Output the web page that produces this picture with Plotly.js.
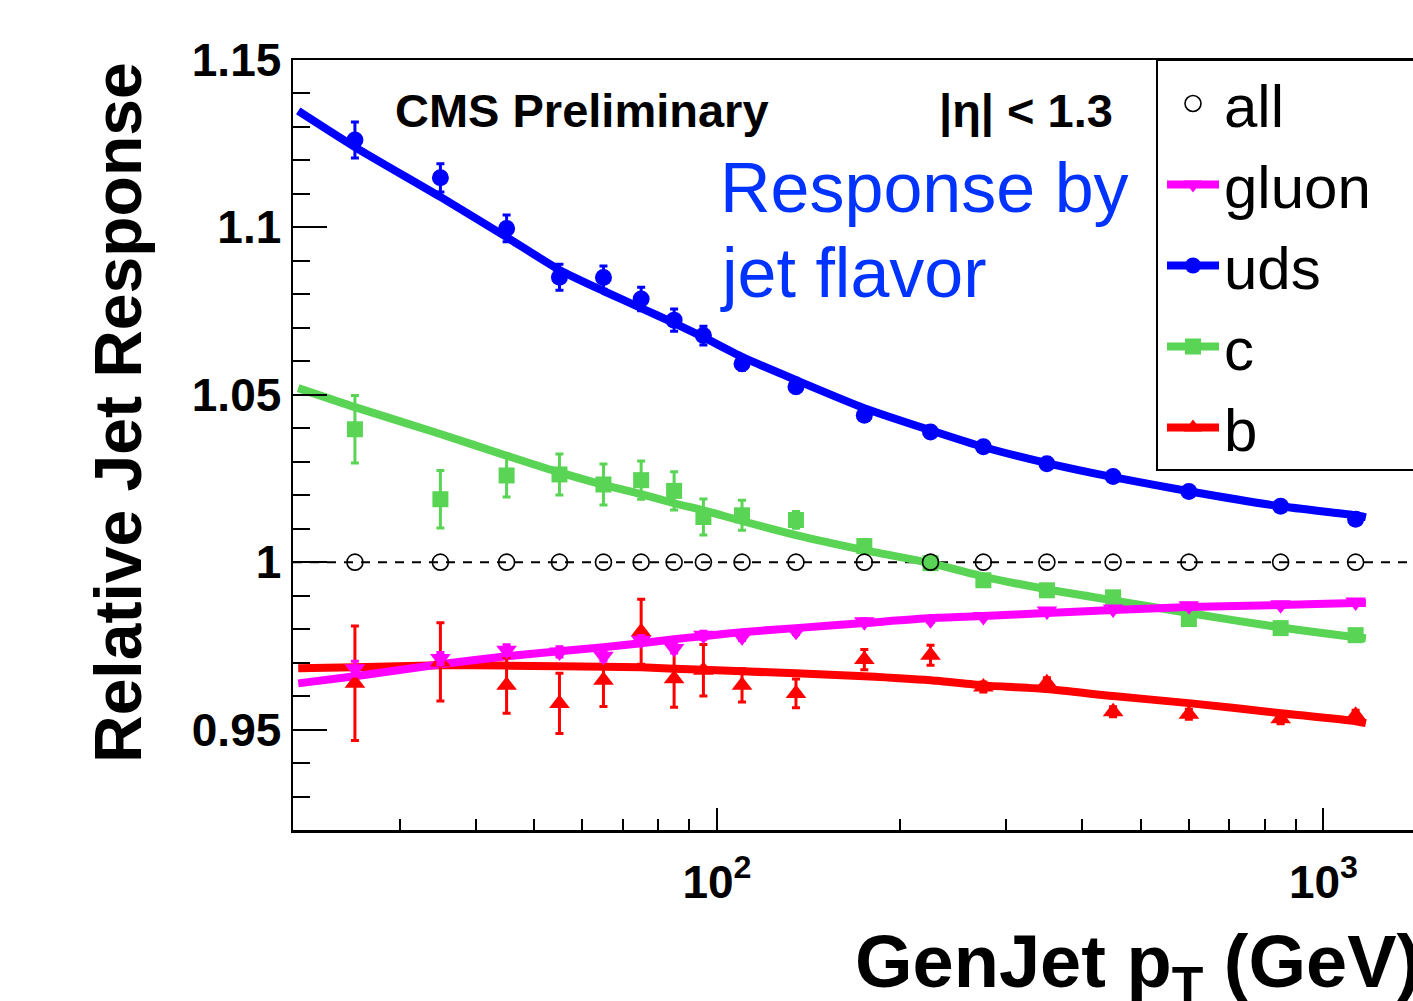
<!DOCTYPE html>
<html>
<head>
<meta charset="utf-8">
<script src="https://cdn.plot.ly/plotly-3.0.1.min.js"></script>
<style>
  html, body { margin: 0; padding: 0; overflow: hidden; background: #ffffff; }
  #chart { width: 1536px; height: 1001px; }
</style>
</head>
<body>
<div id="chart"></div>
<script>
// ---------------- data ----------------
const pt = [25.3, 35, 45, 55, 65, 75, 85, 95, 110, 135, 175, 225, 275, 350, 450, 600, 850, 1130];

const allResp = [1, 1, 1, 1, 1, 1, 1, 1, 1, 1, 1, 1, 1, 1, 1, 1, 1, 1];

const udsResp = [1.1261, 1.1148, 1.0997, 1.0851, 1.0850, 1.0786, 1.0723, 1.0677, 1.0593, 1.0524, 1.0439, 1.0389, 1.0345, 1.0294, 1.0256, 1.0211, 1.0167, 1.0128];
const udsErr  = [0.0054, 0.0042, 0.0040, 0.0039, 0.0035, 0.0035, 0.0033, 0.0028, 0.0020, 0.0018, 0.0015, 0.0014, 0.0012, 0.0011, 0.0010, 0.0010, 0.0010, 0.0010];

const cResp = [1.0397, 1.0188, 1.0259, 1.0262, 1.0232, 1.0245, 1.0213, 1.0135, 1.0140, 1.0126, 1.0048, 0.9997, 0.9946, 0.9916, 0.9895, 0.9830, 0.9803, 0.9782];
const cErr  = [0.0101, 0.0086, 0.0064, 0.0061, 0.0061, 0.0057, 0.0057, 0.0054, 0.0045, 0.0025, 0.0020, 0.0018, 0.0015, 0.0014, 0.0013, 0.0012, 0.0012, 0.0012];

const gluonResp = [0.9682, 0.9712, 0.9737, 0.9732, 0.9719, 0.9767, 0.9742, 0.9782, 0.9777, 0.9794, 0.9822, 0.9828, 0.9838, 0.9854, 0.9860, 0.9870, 0.9873, 0.9881];
const gluonErr  = [0.0022, 0.0018, 0.0016, 0.0015, 0.0014, 0.0014, 0.0013, 0.0012, 0.0011, 0.0010, 0.0009, 0.0008, 0.0008, 0.0007, 0.0007, 0.0007, 0.0007, 0.0007];

const bResp = [0.9638, 0.9702, 0.9632, 0.9578, 0.9647, 0.9792, 0.9652, 0.9677, 0.9632, 0.9608, 0.9709, 0.9722, 0.9627, 0.9640, 0.9553, 0.9546, 0.9532, 0.9543];
const bErr  = [0.0171, 0.0117, 0.0083, 0.0090, 0.0078, 0.0097, 0.0085, 0.0077, 0.0050, 0.0043, 0.0030, 0.0030, 0.0015, 0.0015, 0.0015, 0.0015, 0.0015, 0.0015];

// fitted curves
const fitPt    = [20.4, 25.3, 35, 45, 55, 65, 75, 85, 95, 110, 135, 175, 225, 275, 350, 450, 600, 850, 1130, 1175];
const udsFit   = [1.1348, 1.1240, 1.1091, 1.0971, 1.0873, 1.0810, 1.0759, 1.0714, 1.0672, 1.0613, 1.0544, 1.0460, 1.0394, 1.0344, 1.0296, 1.0254, 1.0212, 1.0167, 1.0140, 1.0134];
const cFit     = [1.0520, 1.0463, 1.0383, 1.0318, 1.0268, 1.0231, 1.0203, 1.0176, 1.0155, 1.0123, 1.0081, 1.0036, 0.9997, 0.9957, 0.9919, 0.9886, 0.9848, 0.9805, 0.9776, 0.9773];
const gluonFit = [0.9638, 0.9659, 0.9695, 0.9719, 0.9734, 0.9746, 0.9758, 0.9770, 0.9779, 0.9791, 0.9803, 0.9818, 0.9833, 0.9839, 0.9848, 0.9857, 0.9866, 0.9872, 0.9878, 0.9878];
const bFit     = [0.9683, 0.9686, 0.9692, 0.9691, 0.9689, 0.9688, 0.9686, 0.9682, 0.9679, 0.9674, 0.9668, 0.9659, 0.9647, 0.9632, 0.9621, 0.9600, 0.9579, 0.9549, 0.9525, 0.9519];

const refLevel = 1;

// axes
const xRange = [20, 2000];
const xTickVals = [100, 1000];
const xTickText = ['10<sup>2</sup>', '10<sup>3</sup>'];
const xMinorVals = [30, 40, 50, 60, 70, 80, 90, 200, 300, 400, 500, 600, 700, 800, 900];
const yRange = [0.92, 1.15];
const yTickVals = [0.95, 1, 1.05, 1.1, 1.15];
const yTickText = ['0.95', '1', '1.05', '1.1', '1.15'];
const yMinorVals = [0.93, 0.94, 0.96, 0.97, 0.98, 0.99, 1.01, 1.02, 1.03, 1.04, 1.06, 1.07, 1.08, 1.09, 1.11, 1.12, 1.13, 1.14];

// ---------------- styling ----------------
const FONT = 'Liberation Sans, Arial, Helvetica, sans-serif';
const COL = { all: '#000000', gluon: '#ff00ff', uds: '#0000ff', c: '#59d454', b: '#ff0000' };

// plot-area geometry in page pixels (used only to place text and the legend frame)
const PL = 293, PT = 60, PW = 1213, PH = 770;
const fx = px => (px - PL) / PW;
const fy = py => 1 - (py - PT) / PH;

function fitTrace(name, y, color, symbol, rank) {
  return {
    type: 'scatter', mode: 'lines+markers', name: name,
    x: fitPt, y: y,
    line: { color: color, width: 8, shape: 'spline', smoothing: 0.6 },
    marker: { symbol: symbol, size: 16, color: color },
    selectedpoints: [], unselected: { marker: { opacity: 0 } },
    legendgroup: name, legendrank: rank, hoverinfo: 'skip'
  };
}
function pointTrace(name, y, err, color, symbol, size) {
  return {
    type: 'scatter', mode: 'markers', name: name, showlegend: false,
    x: pt, y: y, legendgroup: name,
    marker: { symbol: symbol, size: size, color: color },
    error_y: { type: 'data', array: err, visible: true, color: color, thickness: 3, width: 4 }
  };
}

const data = [
  fitTrace('b', bFit, COL.b, 'triangle-up', 5),
  fitTrace('c', cFit, COL.c, 'square', 4),
  fitTrace('gluon', gluonFit, COL.gluon, 'triangle-down', 2),
  fitTrace('uds', udsFit, COL.uds, 'circle', 3),
  pointTrace('b', bResp, bErr, COL.b, 'triangle-up', 18),
  pointTrace('c', cResp, cErr, COL.c, 'square', 16),
  pointTrace('gluon', gluonResp, gluonErr, COL.gluon, 'triangle-down', 18),
  pointTrace('uds', udsResp, udsErr, COL.uds, 'circle', 17),
  {
    type: 'scatter', mode: 'markers', name: 'all', x: pt, y: allResp,
    marker: { symbol: 'circle-open', size: 16, color: COL.all, line: { width: 1.6, color: COL.all } },
    legendgroup: 'all', legendrank: 1
  }
];

const tickFontX = { family: FONT, size: 46, weight: 'bold', color: '#000' };
const tickFontY = { family: FONT, size: 46, weight: 'bold', color: '#000' };

const layout = {
  width: 1536, height: 1001,
  margin: { l: PL, r: 1536 - PL - PW, t: PT, b: 1001 - PT - PH, pad: 0 },
  paper_bgcolor: '#ffffff', plot_bgcolor: '#ffffff',
  font: { family: FONT, color: '#000' },
  showlegend: true,
  legend: {
    x: fx(1162), y: fy(58), xanchor: 'left', yanchor: 'top',
    bgcolor: 'rgba(255,255,255,0)', borderwidth: 0,
    font: { family: FONT, size: 60, color: '#000' },
    itemsizing: 'trace', itemwidth: 52, tracegroupgap: 7,
    traceorder: 'normal'
  },
  xaxis: {
    type: 'log', range: [Math.log10(xRange[0]), Math.log10(xRange[1])],
    showline: true, mirror: true, linecolor: '#000', linewidth: 2.5,
    showgrid: false, zeroline: false,
    ticks: 'inside', ticklen: 22, tickwidth: 2, tickcolor: '#000',
    tickmode: 'array', tickvals: xTickVals, ticktext: xTickText,
    tickfont: tickFontX, ticklabelstandoff: 10,
    minor: { tickmode: 'array', tickvals: xMinorVals, ticks: 'inside', ticklen: 11, tickwidth: 2, tickcolor: '#000', showgrid: false }
  },
  yaxis: {
    range: yRange,
    showline: true, mirror: true, linecolor: '#000', linewidth: 2.5,
    showgrid: false, zeroline: false,
    ticks: 'inside', ticklen: 34, tickwidth: 2, tickcolor: '#000',
    tickmode: 'array', tickvals: yTickVals, ticktext: yTickText,
    tickfont: tickFontY, ticklabelstandoff: 0,
    minor: { tickmode: 'array', tickvals: yMinorVals, ticks: 'inside', ticklen: 17, tickwidth: 2, tickcolor: '#000', showgrid: false }
  },
  shapes: [
    { type: 'line', xref: 'paper', x0: 0, x1: 1, yref: 'y', y0: refLevel, y1: refLevel,
      line: { color: '#000', width: 2, dash: '9px,8px' }, layer: 'below' },
    // legend frame (runs off the right edge like in the reference)
    { type: 'rect', xref: 'paper', yref: 'paper', x0: fx(1157), x1: 1.2, y0: fy(470), y1: 1,
      line: { color: '#000', width: 2 }, fillcolor: 'rgba(0,0,0,0)', layer: 'above' }
  ],
  annotations: [
    { text: 'CMS Preliminary', xref: 'paper', yref: 'paper', x: fx(393), y: fy(110),
      xanchor: 'left', yanchor: 'middle', showarrow: false,
      font: { family: FONT, size: 47, weight: 'bold', color: '#000' } },
    { text: '|η| &lt; 1.3', xref: 'paper', yref: 'paper', x: fx(1115), y: fy(110),
      xanchor: 'right', yanchor: 'middle', showarrow: false,
      font: { family: FONT, size: 47, weight: 'bold', color: '#000' } },
    { text: 'Response by', xref: 'paper', yref: 'paper', x: fx(718), y: fy(188),
      xanchor: 'left', yanchor: 'middle', showarrow: false,
      font: { family: FONT, size: 70, color: '#0033ff' } },
    { text: 'jet flavor', xref: 'paper', yref: 'paper', x: fx(718), y: fy(273),
      xanchor: 'left', yanchor: 'middle', showarrow: false,
      font: { family: FONT, size: 70, color: '#0033ff' } },
    { text: 'Relative Jet Response', xref: 'paper', yref: 'paper', x: fx(118), y: fy(413),
      xanchor: 'center', yanchor: 'middle', textangle: -90, showarrow: false,
      font: { family: FONT, size: 66, weight: 'bold', color: '#000' } },
    { text: 'GenJet p<sub>T</sub> (GeV)', xref: 'paper', yref: 'paper', x: fx(853), y: fy(967),
      xanchor: 'left', yanchor: 'middle', showarrow: false,
      font: { family: FONT, size: 74, weight: 'bold', color: '#000' } }
  ]
};

Plotly.newPlot('chart', data, layout, { displayModeBar: false, staticPlot: true });
</script>
</body>
</html>
